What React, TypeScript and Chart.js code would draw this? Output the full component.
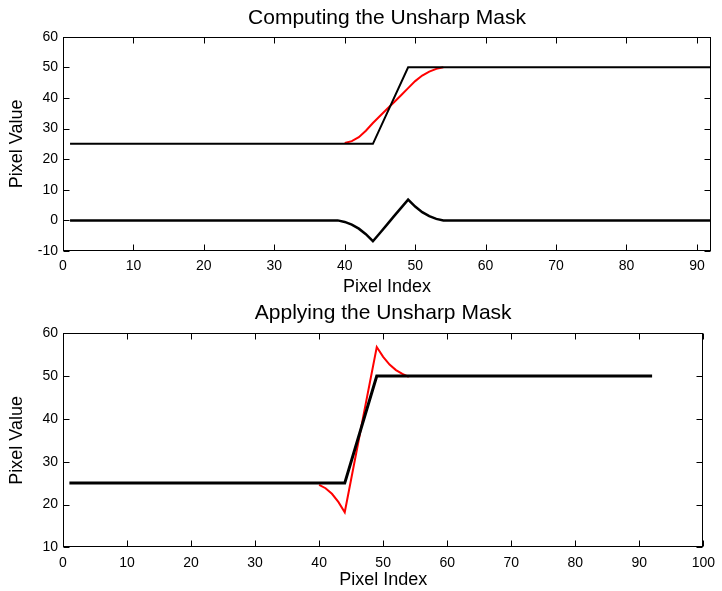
import React, { useEffect, useRef } from 'react';
import { Chart, registerables } from 'chart.js';

Chart.register(...registerables);

const FONT = "'Liberation Sans', Arial, Helvetica, sans-serif";

// ---- Data ----
const originalX = [1, 44, 49, 92];
const originalY = [25, 25, 50, 50];

const blurX = [40, 41, 42, 43, 44, 45, 46, 47, 48, 49, 50, 51, 52, 53, 54];
const blurY = [25.3, 25.9, 27.2, 29.3, 31.8, 34.1, 36.4, 38.6, 40.9, 43.2, 45.5, 47.3, 48.6, 49.5, 50];

const maskX = [1, 39, 40, 41, 42, 43, 44, 45, 46, 47, 48, 49, 50, 51, 52, 53, 54, 92];
const maskY = [0, 0, -0.5, -1.4, -2.7, -4.5, -6.8, -4.1, -1.4, 1.4, 4.1, 6.8, 4.5, 2.7, 1.4, 0.5, 0, 0];

const sharpX = [40, 41, 42, 43, 44, 45, 46, 47, 48, 49, 50, 51, 52, 53, 54];
const sharpY = [24.6, 23.8, 22.5, 20.6, 18.2, 25.9, 33.6, 41.4, 49.1, 56.8, 54.5, 52.7, 51.4, 50.5, 49.8];

const topXTicks = [0, 10, 20, 30, 40, 50, 60, 70, 80, 90];
const bottomXTicks = [0, 10, 20, 30, 40, 50, 60, 70, 80, 90, 100];
const topYTicks = [-10, 0, 10, 20, 30, 40, 50, 60];
const bottomYTicks = [10, 20, 30, 40, 50, 60];

const topTitle = 'Computing the Unsharp Mask';
const bottomTitle = 'Applying the Unsharp Mask';
const xLabel = 'Pixel Index';
const yLabel = 'Pixel Value';

const pts = (xs: number[], ys: number[]) => xs.map((x, i) => ({ x, y: ys[i] }));

const boxTicks = {
  id: 'boxTicks',
  afterDatasetsDraw(chart: any) {
    const { ctx, chartArea: a, scales } = chart;
    const xs = scales.x;
    const ys = scales.y;
    const L = 6;
    ctx.save();
    ctx.strokeStyle = '#000';
    ctx.lineWidth = 1;
    const l = Math.round(a.left) + 0.5;
    const r = Math.round(a.right) - 0.5;
    const t = Math.round(a.top) + 0.5;
    const b = Math.round(a.bottom) - 0.5;
    ctx.strokeRect(l, t, r - l, b - t);
    ctx.beginPath();
    xs.ticks.forEach((tk: any) => {
      const px = Math.round(xs.getPixelForValue(tk.value)) + 0.5;
      ctx.moveTo(px, b);
      ctx.lineTo(px, b - L);
      ctx.moveTo(px, t);
      ctx.lineTo(px, t + L);
    });
    ys.ticks.forEach((tk: any) => {
      const py = Math.round(ys.getPixelForValue(tk.value)) + 0.5;
      ctx.moveTo(l, py);
      ctx.lineTo(l + L, py);
      ctx.moveTo(r, py);
      ctx.lineTo(r - L, py);
    });
    ctx.stroke();
    ctx.restore();
  },
};

function makeConfig(p: {
  title: string;
  titlePad: { top: number; bottom: number };
  datasets: any[];
  xMax: number;
  yMin: number;
  yMax: number;
  xTicks: number[];
  yTicks: number[];
  xHeight: number;
  xTitlePad: number;
}) {
  return {
    type: 'line',
    data: { datasets: p.datasets },
    options: {
      animation: false,
      responsive: false,
      maintainAspectRatio: false,
      layout: { padding: { left: 0, right: 11, top: 0, bottom: 0 } },
      plugins: {
        legend: { display: false },
        tooltip: { enabled: false },
        title: {
          display: true,
          fullSize: false,
          text: p.title,
          color: '#000',
          font: { family: FONT, size: 21, weight: 'normal' },
          padding: p.titlePad,
        },
      },
      scales: {
        x: {
          type: 'linear',
          min: 0,
          max: p.xMax,
          grid: { display: false, drawTicks: false },
          border: { display: false },
          ticks: {
            autoSkip: false,
            color: '#000',
            padding: 7,
            font: { family: FONT, size: 14 },
            maxRotation: 0,
          },
          afterBuildTicks(s: any) {
            s.ticks = p.xTicks.map((v) => ({ value: v }));
          },
          afterFit(s: any) {
            s.height = p.xHeight;
          },
          title: {
            display: true,
            text: xLabel,
            color: '#000',
            font: { family: FONT, size: 18 },
            padding: { top: 0, bottom: p.xTitlePad },
          },
        },
        y: {
          type: 'linear',
          min: p.yMin,
          max: p.yMax,
          grid: { display: false, drawTicks: false },
          border: { display: false },
          ticks: {
            autoSkip: false,
            color: '#000',
            padding: 5,
            font: { family: FONT, size: 14 },
          },
          afterBuildTicks(s: any) {
            s.ticks = p.yTicks.map((v) => ({ value: v }));
          },
          afterFit(s: any) {
            s.width = 63;
          },
          title: {
            display: true,
            text: yLabel,
            color: '#000',
            font: { family: FONT, size: 18 },
            padding: { top: 6, bottom: 0 },
          },
        },
      },
    },
    plugins: [boxTicks],
  } as any;
}

export default function App() {
  const topRef = useRef<HTMLCanvasElement>(null);
  const botRef = useRef<HTMLCanvasElement>(null);

  useEffect(() => {
    const top = new Chart(
      topRef.current as HTMLCanvasElement,
      makeConfig({
        title: topTitle,
        titlePad: { top: 5.7, bottom: 5.8 },
        xMax: 92,
        yMin: -10,
        yMax: 60,
        xTicks: topXTicks,
        yTicks: topYTicks,
        xHeight: 49,
        xTitlePad: 2.2,
        datasets: [
          { data: pts(originalX, originalY), borderColor: '#000', borderWidth: 2, pointRadius: 0, tension: 0 },
          { data: pts(maskX, maskY), borderColor: '#000', borderWidth: 2.5, pointRadius: 0, tension: 0 },
          { data: pts(blurX, blurY), borderColor: '#ff0000', borderWidth: 2, pointRadius: 0, tension: 0 },
        ],
      })
    );
    const bot = new Chart(
      botRef.current as HTMLCanvasElement,
      makeConfig({
        title: bottomTitle,
        titlePad: { top: 0.4, bottom: 7.7 },
        xMax: 100,
        yMin: 10,
        yMax: 60,
        xTicks: bottomXTicks,
        yTicks: bottomYTicks,
        xHeight: 43.7,
        xTitlePad: 0,
        datasets: [
          { data: pts(originalX, originalY), borderColor: '#000', borderWidth: 3, pointRadius: 0, tension: 0 },
          { data: pts(sharpX, sharpY), borderColor: '#ff0000', borderWidth: 2, pointRadius: 0, tension: 0 },
        ],
      })
    );
    return () => {
      top.destroy();
      bot.destroy();
    };
  }, []);

  return (
    <div style={{ position: 'fixed', left: 0, top: 0, width: 722, height: 591, background: '#fff' }}>
      <canvas ref={topRef} width={722} height={300} style={{ position: 'absolute', left: 0, top: 0, width: 722, height: 300 }} />
      <canvas ref={botRef} width={722} height={291} style={{ position: 'absolute', left: 0, top: 300, width: 722, height: 291 }} />
    </div>
  );
}
